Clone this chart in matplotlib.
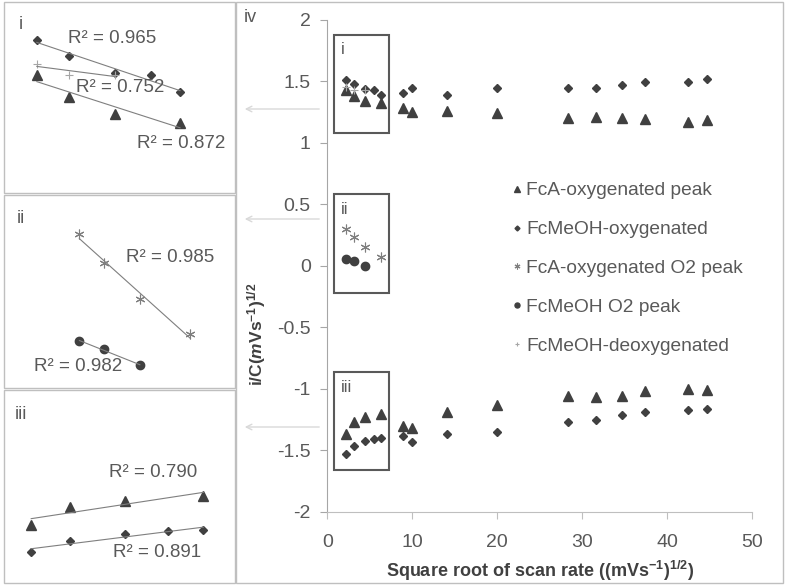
import numpy as np
import matplotlib.pyplot as plt
from matplotlib.patches import Rectangle

plt.rcParams['font.family'] = ['Liberation Sans', 'DejaVu Sans']
plt.rcParams['mathtext.default'] = 'regular'
plt.rcParams['mathtext.fontset'] = 'custom'
plt.rcParams['mathtext.it'] = 'Liberation Sans:italic:bold'
plt.rcParams['mathtext.rm'] = 'Liberation Sans'

# square root of scan rate, (mV/s)^1/2
sqrt_rate = [2.24, 3.16, 4.47, 5.48, 6.32, 8.94, 10.0, 14.14, 20.0,
             28.28, 31.62, 34.64, 37.42, 42.43, 44.72]
# FcA has no run at 30 mV/s
sqrt_rate_fca = [2.24, 3.16, 4.47, 6.32, 8.94, 10.0, 14.14, 20.0,
                 28.28, 31.62, 34.64, 37.42, 42.43, 44.72]

fca_ox = [1.43, 1.38, 1.34, 1.32, 1.28, 1.25, 1.26, 1.24, 1.20, 1.21, 1.20, 1.19, 1.17, 1.18]
fca_red = [-1.37, -1.265, -1.23, -1.20, -1.30, -1.32, -1.19, -1.13, -1.06, -1.07, -1.06, -1.02, -1.00, -1.01]
fcmeoh_ox = [1.51, 1.474, 1.435, 1.429, 1.39, 1.40, 1.44, 1.39, 1.44, 1.44, 1.44, 1.47, 1.49, 1.49, 1.52]
fcmeoh_red = [-1.53, -1.464, -1.424, -1.404, -1.40, -1.38, -1.43, -1.37, -1.35, -1.27, -1.25, -1.21, -1.19, -1.17, -1.16]

o2_rate_fca = [2.24, 3.16, 4.47, 6.32]
fca_o2 = [0.30, 0.233, 0.15, 0.07]
o2_rate_fcmeoh = [2.24, 3.16, 4.47]
fcmeoh_o2 = [0.053, 0.036, -0.002]
deox_rate = [2.24, 3.16, 4.47]
fcmeoh_deox = [1.455, 1.43, 1.43]

labels = ['FcA-oxygenated peak', 'FcMeOH-oxygenated', 'FcA-oxygenated O2 peak',
          'FcMeOH O2 peak', 'FcMeOH-deoxygenated']
r2_i = ['R² = 0.965', 'R² = 0.752', 'R² = 0.872']
r2_ii = ['R² = 0.985', 'R² = 0.982']
r2_iii = ['R² = 0.790', 'R² = 0.891']

W, H = 786, 585
DARK = '#404040'
TXT = '#595959'
tri = dict(marker='^', ms=6.8, color=DARK, ls='none')
dia = dict(marker='D', ms=4.2, color=DARK, ls='none')
ast = dict(marker=(6, 2, 0), ms=7, mew=0.8, color='#7f7f7f', ls='none')
dot = dict(marker='o', ms=6, color=DARK, ls='none')
plus = dict(marker='+', ms=6, mew=0.8, color='#a6a6a6', ls='none')


def px_rect(x0, y0, x1, y1):
    return [x0 / W, 1 - y1 / H, (x1 - x0) / W, (y1 - y0) / H]


def inset(rect, xlim, ylim):
    a = fig.add_axes(px_rect(*rect))
    a.set_xlim(xlim)
    a.set_ylim(ylim)
    a.axis('off')
    return a


def trend(a, x, y):
    k, b = np.polyfit(x, y, 1)
    xs = np.array([x[0], x[-1]])
    a.plot(xs, k * xs + b, color='#7f7f7f', lw=0.8)


fig = plt.figure(figsize=(W / 100, H / 100), dpi=100)

# panel borders
for r in [(4, 2, 235, 193), (4, 195, 235, 388), (4, 390, 235, 583), (236, 2, 783, 583)]:
    fig.add_artist(Rectangle((r[0] / W, 1 - r[3] / H), (r[2] - r[0]) / W, (r[3] - r[1]) / H,
                             transform=fig.transFigure, fill=False, ec='#bfbfbf', lw=1))

# main chart (iv)
ax = fig.add_axes(px_rect(327.3, 19.5, 752.3, 512))
h1, = ax.plot(sqrt_rate_fca, fca_ox, **tri)
ax.plot(sqrt_rate_fca, fca_red, **tri)
h2, = ax.plot(sqrt_rate, fcmeoh_ox, **dia)
ax.plot(sqrt_rate, fcmeoh_red, **dia)
h3, = ax.plot(o2_rate_fca, fca_o2, **ast)
h4, = ax.plot(o2_rate_fcmeoh, fcmeoh_o2, **dot)
h5, = ax.plot(deox_rate, fcmeoh_deox, **plus)

ax.set_xlim(0, 50)
ax.set_ylim(-2, 2)
ax.set_xticks(range(0, 51, 10))
ax.set_yticks(np.arange(-2, 2.01, 0.5))
ax.set_yticklabels(['-2', '-1.5', '-1', '-0.5', '0', '0.5', '1', '1.5', '2'])
for s in ['top', 'right']:
    ax.spines[s].set_visible(False)
ax.spines['left'].set_color('#a6a6a6')
ax.spines['bottom'].set_color('#bfbfbf')
ax.tick_params(axis='y', length=5, color='#a6a6a6', labelcolor=TXT, labelsize=14, pad=7)
ax.tick_params(axis='x', length=5, color='#bfbfbf', labelcolor=TXT, labelsize=14, pad=11)
ax.set_xlabel('Square root of scan rate ((mVs$^{-1}$)$^{1/2}$)', fontsize=13,
              fontweight='bold', color=DARK)
ax.set_ylabel(r'i/C($\mathit{m}$Vs$^{-1}$)$^{1/2}$', fontsize=12.5, fontweight='bold', color=DARK)
ax.xaxis.set_label_coords(0.5, -0.095)
ax.yaxis.set_label_coords(-0.14, 0.36)

for y0, h, name in [(1.076, 0.8, 'i'), (-0.22, 0.8, 'ii'), (-1.66, 0.794, 'iii')]:
    ax.add_patch(Rectangle((0.82, y0), 6.48, h, fill=False, ec='#595959', lw=1.5))
    ax.text(1.6, y0 + h - 0.06, name, fontsize=12, color=TXT, ha='left', va='top')

ax.legend([h1, h2, h3, h4, h5], labels, loc='upper left',
          bbox_to_anchor=(511 / W, 1 - 182 / H), bbox_transform=fig.transFigure,
          frameon=False, fontsize=13.8, labelcolor=TXT, handlelength=0.6,
          handletextpad=0.2, labelspacing=1.12, markerscale=0.6,
          borderpad=0, borderaxespad=0)

for y in [109, 219, 427]:
    ax.annotate('', xy=(242 / W, 1 - y / H), xycoords='figure fraction',
                xytext=(322 / W, 1 - y / H), textcoords='figure fraction',
                arrowprops=dict(arrowstyle='->', color='#d9d9d9', lw=1))
fig.text(250 / W, 1 - 18 / H, 'iv', fontsize=13, color=TXT, ha='center', va='center')

# inset i
a1 = inset((4, 2, 235, 193), (1.304, 7.886), (1.159, 1.597))
a1.plot(sqrt_rate[:5], fcmeoh_ox[:5], **dia)
a1.plot(sqrt_rate_fca[:4], fca_ox[:4], **tri)
a1.plot(deox_rate, fcmeoh_deox, **plus)
trend(a1, sqrt_rate[:5], fcmeoh_ox[:5])
trend(a1, sqrt_rate_fca[:4], fca_ox[:4])
trend(a1, deox_rate, fcmeoh_deox)
a1.text(0.072, 0.88, 'i', transform=a1.transAxes, fontsize=13, color=TXT, ha='center', va='center')
for txt, (tx, ty) in zip(r2_i, [(0.47, 0.81), (0.505, 0.553), (0.766, 0.26)]):
    a1.text(tx, ty, txt, transform=a1.transAxes, fontsize=13.5, color=TXT, ha='center', va='center')

# inset ii
a2 = inset((4, 195, 235, 388), (-0.543, 7.981), (-0.054, 0.390))
a2.plot(o2_rate_fca, fca_o2, **ast)
a2.plot(o2_rate_fcmeoh, fcmeoh_o2, **dot)
trend(a2, o2_rate_fca, fca_o2)
trend(a2, o2_rate_fcmeoh, fcmeoh_o2)
a2.text(0.072, 0.876, 'ii', transform=a2.transAxes, fontsize=13, color=TXT, ha='center', va='center')
for txt, (tx, ty) in zip(r2_ii, [(0.719, 0.675), (0.322, 0.11)]):
    a2.text(tx, ty, txt, transform=a2.transAxes, fontsize=13.5, color=TXT, ha='center', va='center')

# inset iii
a3 = inset((4, 390, 235, 583), (1.596, 7.07), (-1.708, -0.586))
a3.plot(sqrt_rate_fca[:4], fca_red[:4], **tri)
a3.plot(sqrt_rate[:5], fcmeoh_red[:5], **dia)
trend(a3, sqrt_rate_fca[:4], fca_red[:4])
trend(a3, sqrt_rate[:5], fcmeoh_red[:5])
a3.text(0.072, 0.874, 'iii', transform=a3.transAxes, fontsize=13, color=TXT, ha='center', va='center')
for txt, (tx, ty) in zip(r2_iii, [(0.644, 0.574), (0.664, 0.159)]):
    a3.text(tx, ty, txt, transform=a3.transAxes, fontsize=13.5, color=TXT, ha='center', va='center')

fig.savefig('out.png', dpi=100)
